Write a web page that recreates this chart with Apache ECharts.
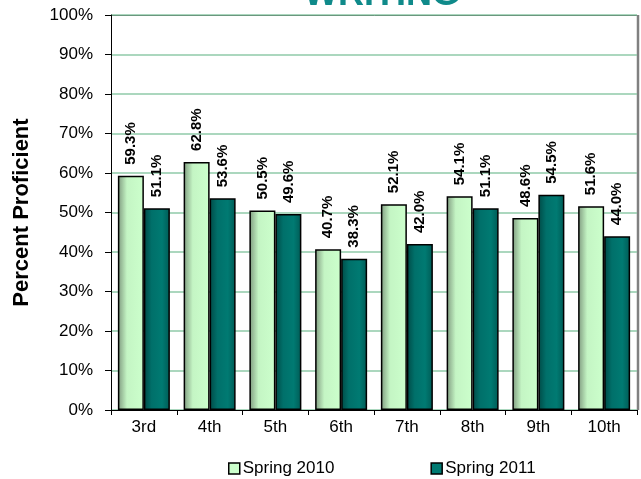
<!DOCTYPE html>
<html>
<head>
<meta charset="utf-8">
<script src="https://cdn.jsdelivr.net/npm/echarts@6/dist/echarts.min.js"></script>
<style>
  html, body { margin: 0; padding: 0; background: #fff; }
  #chart { width: 641px; height: 479px; }
</style>
</head>
<body>
<div id="chart"></div>
<script>
const grades = ['3rd', '4th', '5th', '6th', '7th', '8th', '9th', '10th']
const spring2010 = [59.3, 62.8, 50.5, 40.7, 52.1, 54.1, 48.6, 51.6]
const spring2011 = [51.1, 53.6, 49.6, 38.3, 42.0, 51.1, 54.5, 44.0]

const chart = echarts.init(document.getElementById('chart'))
const font = 'Arial, Liberation Sans'

// gradient fills, roughly like the old office 3d look
const lightFill = new echarts.graphic.LinearGradient(0, 0, 1, 0, [
  { offset: 0, color: '#7f9a7f' },
  { offset: 0.35, color: '#c4f5c4' },
  { offset: 1, color: '#ccffcc' }
])
const darkFill = new echarts.graphic.LinearGradient(0, 0, 1, 0, [
  { offset: 0, color: '#004a46' },
  { offset: 0.3, color: '#00706a' },
  { offset: 0.7, color: '#007a72' },
  { offset: 1, color: '#005a55' }
])

const labelCfg = {
  show: true,
  position: 'top',
  rotate: 90,
  align: 'left',
  verticalAlign: 'middle',
  distance: 11,
  fontFamily: font,
  fontWeight: 'bold',
  fontSize: 15,
  color: '#000',
  formatter: p => p.value.toFixed(1) + '%'
}

const option = {
  animation: false,
  title: {
    text: 'WRITING',
    left: 377,
    textAlign: 'center',
    top: -28,
    textStyle: { color: '#0f8a8a', fontSize: 36, fontWeight: 'bold', fontFamily: font }
  },
  legend: {
    top: 460,
    left: 228,
    padding: 0,
    itemGap: 96,
    itemWidth: 11,
    itemHeight: 11,
    icon: 'rect',
    textStyle: { fontSize: 17, color: '#000', fontFamily: font, padding: [0, 0, 0, -2] },
    data: [
      { name: 'Spring 2010', itemStyle: { color: '#ccffcc', borderColor: '#000', borderWidth: 1.5 } },
      { name: 'Spring 2011', itemStyle: { color: '#007a72', borderColor: '#000', borderWidth: 1.5 } }
    ]
  },
  grid: { left: 111, right: 4, top: 15, bottom: 69 },
  xAxis: {
    type: 'category',
    data: grades,
    axisLine: { lineStyle: { color: '#000', width: 1 } },
    axisTick: { show: true, length: 5, lineStyle: { color: '#000' } },
    axisLabel: { fontSize: 17, color: '#000', margin: 9, fontFamily: font }
  },
  yAxis: {
    type: 'value',
    min: 0,
    max: 100,
    interval: 10,
    name: 'Percent Proficient',
    nameLocation: 'middle',
    nameGap: 78,
    nameTextStyle: { fontSize: 22, fontWeight: 'bold', color: '#000', fontFamily: font },
    axisLine: { show: true, lineStyle: { color: '#000' } },
    axisTick: { show: true, length: 6, lineStyle: { color: '#000' } },
    axisLabel: { fontSize: 17, color: '#000', margin: 18, formatter: '{value}%', fontFamily: font },
    splitLine: { lineStyle: { color: '#8fcaa8', width: 1.5 } }
  },
  series: [
    {
      name: 'Spring 2010',
      type: 'bar',
      data: spring2010,
      barWidth: 26,
      barGap: '0%',
      itemStyle: { color: lightFill, borderColor: '#000', borderWidth: 1.5 },
      label: labelCfg
    },
    {
      name: 'Spring 2011',
      type: 'bar',
      data: spring2011,
      barWidth: 26,
      itemStyle: { color: darkFill, borderColor: '#000', borderWidth: 1.5 },
      label: labelCfg
    }
  ],
  graphic: [
    // top border of plot area and grey right edge
    { type: 'line', shape: { x1: 111, y1: 15.5, x2: 638, y2: 15.5 }, style: { stroke: '#000', lineWidth: 1 } },
    { type: 'line', shape: { x1: 638, y1: 15, x2: 638, y2: 410 }, style: { stroke: '#808080', lineWidth: 2.5 } }
  ]
}

chart.setOption(option)
</script>
</body>
</html>
